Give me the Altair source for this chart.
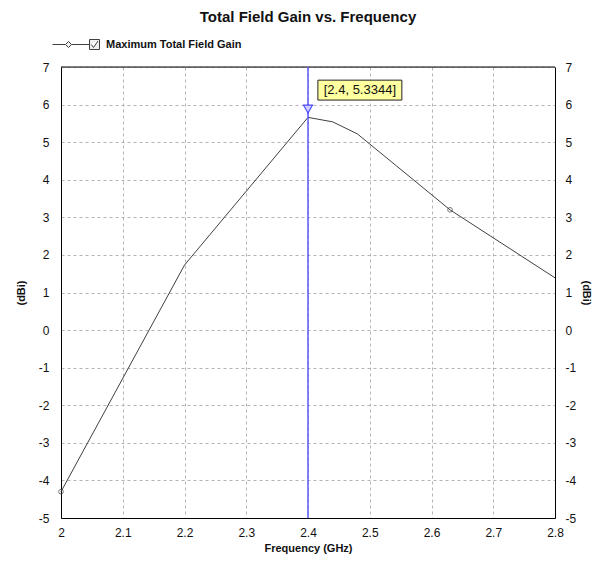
import altair as alt
import pandas as pd

# ---- data ----
freq = [2.0, 2.2, 2.4, 2.44, 2.48, 2.63, 2.8]
gain = [-4.30, 1.73, 5.66, 5.54, 5.22, 3.20, 1.39]
marker_freq = [2.0, 2.63]
marker_gain = [-4.30, 3.20]
series_name = "Maximum Total Field Gain"
x_ticks = [2.0, 2.1, 2.2, 2.3, 2.4, 2.5, 2.6, 2.7, 2.8]
y_ticks = [-5, -4, -3, -2, -1, 0, 1, 2, 3, 4, 5, 6, 7]
cursor_freq = [2.4]
cursor_gain = [5.88]
label_text = ["[2.4, 5.3344]"]
label_box_x = [2.416]
label_box_x2 = [2.552]
label_box_y = [6.65]
label_box_y2 = [6.12]
label_x = [2.484]
label_y = [6.39]

FONT = "Liberation Sans"

line_df = pd.DataFrame({"f": freq, "g": gain, "s": [series_name] * len(freq)})
mk_df = pd.DataFrame({"f": marker_freq, "g": marker_gain})
cur_df = pd.DataFrame({"f": cursor_freq, "g": cursor_gain})
lab_df = pd.DataFrame({"x": label_box_x, "x2": label_box_x2, "y": label_box_y,
                       "y2": label_box_y2, "tx": label_x, "ty": label_y, "t": label_text})
top_df = pd.DataFrame({"g": [max(y_ticks)]})

xscale = alt.Scale(domain=[2.0, 2.8], nice=False, zero=False)
yscale = alt.Scale(domain=[-5, 7], nice=False, zero=False)

x_axis = alt.Axis(values=x_ticks, labelExpr="'' + datum.value", title="Frequency (GHz)",
                  grid=True, gridDash=[3, 3], gridColor="#b4b4b4",
                  ticks=False, labelPadding=9, titlePadding=4, labelFlush=False,
                  domainColor="black", labelFontSize=12, labelColor="#111",
                  labelFont=FONT, titleFont=FONT, titleFontSize=11,
                  titleFontWeight="bold", titleColor="#111")
y_left = alt.Axis(values=y_ticks, labelExpr="'' + datum.value", title="(dBi)", orient="left",
                  grid=True, gridDash=[3, 3], gridColor="#b4b4b4",
                  ticks=False, labelPadding=12, titlePadding=12, labelFlush=False,
                  domainColor="black", labelFontSize=12, labelColor="#111",
                  labelFont=FONT, titleFont=FONT, titleFontSize=11,
                  titleFontWeight="bold", titleColor="#111")
y_right = alt.Axis(values=y_ticks, labelExpr="'' + datum.value", title="(dBi)", orient="right",
                   grid=False, ticks=False, labelPadding=10, titlePadding=5, labelFlush=False,
                   titleAngle=90,
                   domainColor="black", labelFontSize=12, labelColor="#111",
                   labelFont=FONT, titleFont=FONT, titleFontSize=11,
                   titleFontWeight="bold", titleColor="#111")

legend_path = ("M-1,0H-0.48M-0.24,0H0.48"
               "M-0.36,-0.12L-0.24,0L-0.36,0.12L-0.48,0Z"
               "M0.48,-0.2H0.88V0.2H0.48Z"
               "M0.55,0L0.64,0.12L0.82,-0.14")

line = alt.Chart(line_df).mark_line(strokeWidth=1).encode(
    x=alt.X("f:Q", scale=xscale, axis=x_axis),
    y=alt.Y("g:Q", scale=yscale, axis=y_left),
    color=alt.Color("s:N", scale=alt.Scale(domain=[series_name], range=["#404040"]),
                    legend=alt.Legend(title=None, orient="none", legendX=-9, legendY=-48,
                                      symbolType=legend_path, symbolSize=2500,
                                      symbolStrokeWidth=1, symbolFillColor="#f0f0f0",
                                      symbolStrokeColor="black",
                                      labelFont=FONT, labelFontSize=11,
                                      labelFontWeight="bold", labelColor="#111",
                                      labelOffset=3)),
)

markers = alt.Chart(mk_df).mark_point(shape="circle", filled=False, size=22,
                                       color="#404040", strokeWidth=1).encode(
    x=alt.X("f:Q", scale=xscale, axis=x_axis),
    y=alt.Y("g:Q", scale=yscale, axis=y_right),
)

top_frame = alt.Chart(top_df).mark_rule(color="black", strokeWidth=1).encode(
    y=alt.Y("g:Q", scale=yscale, axis=None),
)

cursor = alt.Chart(cur_df).mark_rule(color="#5a5aff", strokeWidth=1.5).encode(
    x=alt.X("f:Q", scale=xscale, axis=x_axis),
)

tri = alt.Chart(cur_df).mark_point(shape="triangle-down", size=80, fill="#d0d0ff",
                                   fillOpacity=1, stroke="#4a4aff", strokeWidth=1.2).encode(
    x=alt.X("f:Q", scale=xscale, axis=x_axis),
    y=alt.Y("g:Q", scale=yscale, axis=None),
)

box = alt.Chart(lab_df).mark_rect(fill="#ffffa0", stroke="#222", strokeWidth=1).encode(
    x=alt.X("x:Q", scale=xscale, axis=x_axis), x2="x2:Q",
    y=alt.Y("y:Q", scale=yscale, axis=None), y2="y2:Q",
)

txt = alt.Chart(lab_df).mark_text(font=FONT, fontSize=13, color="#111").encode(
    x=alt.X("tx:Q", scale=xscale, axis=x_axis),
    y=alt.Y("ty:Q", scale=yscale, axis=None),
    text="t:N",
)

chart = alt.layer(line, top_frame, cursor, markers, tri, box, txt).resolve_axis(
    y="independent"
).properties(
    width=494, height=451,
    autosize=alt.AutoSizeParams(type="none"),
    padding={"left": 53, "top": 59, "right": 39, "bottom": 36},
    title=alt.TitleParams("Total Field Gain vs. Frequency", font=FONT, fontSize=15,
                          fontWeight="bold", anchor="middle", color="#111", offset=-6),
).configure_view(stroke="black", strokeWidth=1).configure(background="white")

chart.save("out.html", embed_options={"renderer": "svg", "actions": False})
